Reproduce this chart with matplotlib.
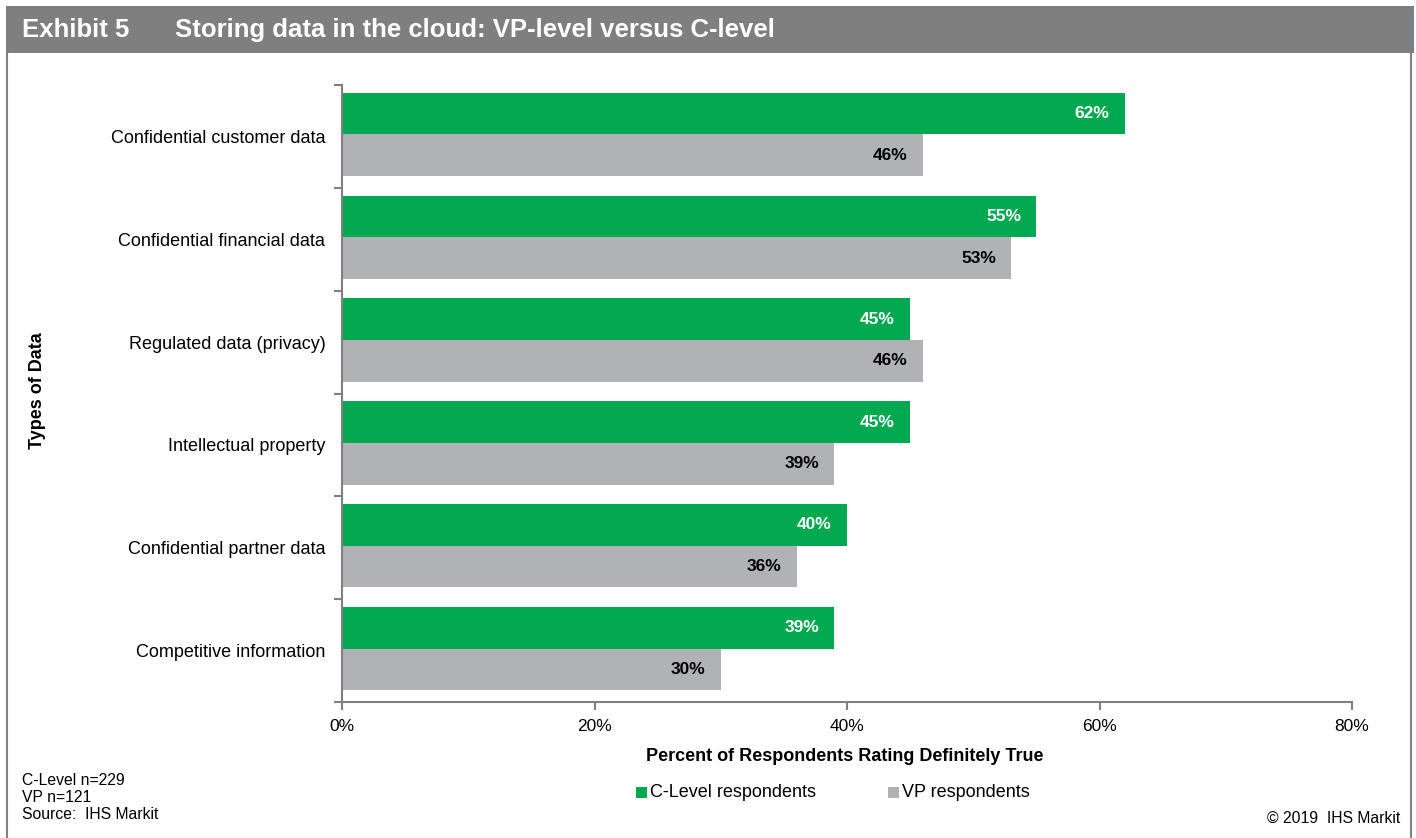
import matplotlib
matplotlib.use("Agg")
import matplotlib.pyplot as plt
from matplotlib.patches import Rectangle
from matplotlib.lines import Line2D

plt.rcParams['font.family'] = ['Liberation Sans', 'DejaVu Sans']

categories = [
    "Confidential customer data",
    "Confidential financial data",
    "Regulated data (privacy)",
    "Intellectual property",
    "Confidential partner data",
    "Competitive information",
]
c_level = [62, 55, 45, 45, 40, 39]
vp = [46, 53, 46, 39, 36, 30]
series_names = ["C-Level respondents", "VP respondents"]
x_ticks = [0, 20, 40, 60, 80]

GREEN = "#00a94f"
GREY = "#b1b2b5"
AXIS = "#808080"

W, H = 1416, 838
fig = plt.figure(figsize=(W / 100, H / 100), dpi=100)

def fx(px):
    return px / W

def fy(py):
    return 1 - py / H

# Header band and frame
fig.patches.append(Rectangle((fx(6), fy(53)), fx(1405), 47 / H, transform=fig.transFigure,
                             facecolor="#7f7f7f", edgecolor="none", zorder=0))
fig.patches.append(Rectangle((fx(1410), fy(53)), fx(4), 47 / H, transform=fig.transFigure,
                             facecolor="#76808e", edgecolor="none", zorder=0))
fig.lines.append(Line2D([fx(7), fx(7)], [fy(53), 0], transform=fig.transFigure, color="#808080", lw=1.5))
fig.lines.append(Line2D([fx(1411), fx(1411)], [fy(53), 0], transform=fig.transFigure, color="#808080", lw=1.5))
fig.text(fx(22), fy(30), "Exhibit 5", color="white", fontsize=18.5, fontweight="bold", va="center", ha="left")
fig.text(fx(175), fy(30), "Storing data in the cloud: VP-level versus C-level", color="white",
         fontsize=18.5, fontweight="bold", va="center", ha="left")

# Plot area
ax = fig.add_axes([fx(342), fy(702), fx(1352 - 342), (702 - 85) / H])
n = len(categories)
ys = list(range(n))
bh = 0.405
ax.barh([y - bh / 2 - 0.02 for y in ys], c_level, height=bh, color=GREEN, zorder=2)
ax.barh([y + bh / 2 - 0.02 for y in ys], vp, height=bh, color=GREY, zorder=2)

for y, v in zip(ys, c_level):
    ax.text(v - 1.2, y - bh / 2 - 0.02, f"{v}%", color="white", fontsize=12.5, fontweight="bold",
            ha="right", va="center")
for y, v in zip(ys, vp):
    ax.text(v - 1.2, y + bh / 2 - 0.02, f"{v}%", color="black", fontsize=12.5, fontweight="bold",
            ha="right", va="center")

ax.set_xlim(0, 80)
ax.set_ylim(n - 0.5, -0.5)
ax.set_xticks(x_ticks)
ax.set_xticklabels([f"{t}%" for t in x_ticks], fontsize=12.5)
ax.set_yticks([y - 0.5 for y in range(n + 1)])
ax.set_yticklabels([])
ax.set_yticks(ys, minor=True)
ax.set_yticklabels(categories, minor=True, fontsize=13)
ax.tick_params(axis="y", which="minor", length=0, pad=12)
ax.tick_params(axis="y", which="major", length=6, color=AXIS, width=1.5, direction="out")
ax.tick_params(axis="x", length=6, color=AXIS, width=1.5, direction="out", pad=6)
for side in ("top", "right"):
    ax.spines[side].set_visible(False)
for side in ("left", "bottom"):
    ax.spines[side].set_color(AXIS)
    ax.spines[side].set_linewidth(1.5)

fig.text(fx(845), fy(756), "Percent of Respondents Rating Definitely True", fontsize=13,
         fontweight="bold", ha="center", va="center")
fig.text(fx(38), fy(391), "Types of Data", fontsize=13, fontweight="bold", rotation=90,
         ha="center", va="center")

# Legend
for xp, col, name in [(636, GREEN, series_names[0]), (888, GREY, series_names[1])]:
    fig.patches.append(Rectangle((fx(xp), fy(798)), fx(11), 11 / H, transform=fig.transFigure,
                                 facecolor=col, edgecolor="none"))
    fig.text(fx(xp + 14), fy(792), name, fontsize=13, ha="left", va="center")

# Footnotes
fig.text(fx(22), fy(780), "C-Level n=229", fontsize=11.3, ha="left", va="center")
fig.text(fx(22), fy(797), "VP n=121", fontsize=11.3, ha="left", va="center")
fig.text(fx(22), fy(814), "Source:  IHS Markit", fontsize=11.3, ha="left", va="center")
fig.text(fx(1400), fy(818), "\u00a9 2019  IHS Markit", fontsize=11.3, ha="right", va="center")

fig.savefig("out.png", dpi=100)
